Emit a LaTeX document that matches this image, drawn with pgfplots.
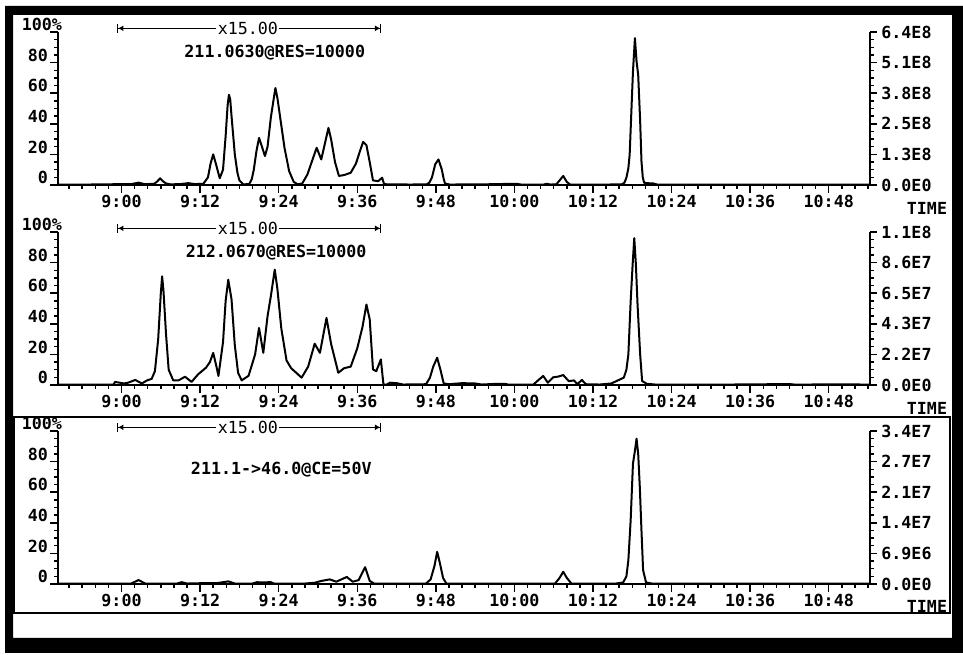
\documentclass[border=0pt]{standalone}
\usepackage{fontspec}
\usepackage{pgfplots}
\usepackage{pgfplotstable}
\pgfplotsset{compat=1.18}
\usetikzlibrary{arrows.meta}
\newfontfamily\monofont{DejaVu Sans Mono}
\newcommand\lbl{\fontsize{12.5pt}{14pt}\selectfont\monofont\bfseries}
\newcommand\hdr{\fontsize{12.5pt}{14pt}\selectfont\monofont}

% time in minutes (9:00 = 540), intensity in % of full scale
\pgfplotstableread{
t v
530.3 0.3
535 0.3
539 0.5
541.5 0.6
542.6 1.5
543.6 0.5
545.0 0.8
545.5 2.5
545.9 4.4
546.3 2.5
546.8 1.0
547.5 0.4
549.0 0.6
550.2 1.2
551.2 0.6
552.5 0.8
553.2 5
553.6 14
554.0 20
554.4 14
555.0 4.4
555.5 10
555.9 32
556.2 52
556.4 59
556.6 56
556.8 45
557.3 20
557.7 8
558.0 3
558.6 0.4
559.5 0.6
559.9 4
560.2 10
560.6 22
561.0 30.8
561.3 27
561.9 18.9
562.3 25
562.8 44
563.3 58
563.5 63.4
563.8 57
564.3 42
564.9 24
565.6 9
566.3 2
566.9 0.4
567.6 1
568.4 7
569.2 17
569.8 24.3
570.5 16.7
571.0 26
571.6 37.3
572.0 30
572.6 15
573.2 5.9
574.0 6.5
575.0 8
575.8 14
576.4 22
576.9 28.2
577.4 26
577.9 15
578.4 3
579.2 2.5
579.8 4.8
580.1 0.5
584 0.3
586.6 0.4
587.0 1.5
587.4 4.8
587.9 13.5
588.4 16.7
588.9 10.2
589.2 4
589.4 1
590.1 0.3
595 0.4
600.3 0.8
601.0 0.3
604.5 0.3
604.9 0.8
605.5 0.3
606.4 0.4
606.9 3
607.45 5.9
608.0 2
608.5 0.3
612 0.2
616.4 0.4
616.8 1.5
617.1 4.8
617.4 11
617.6 20
617.9 52.6
618.1 74
618.4 96
618.65 80.8
618.9 72
619.2 41.7
619.4 15.6
619.6 5
619.8 1.5
620.2 1.2
621.2 1.0
621.8 0.3
630 0.2
640 0.2
654.3 0.2
}\dataA

\pgfplotstableread{
t v
530.3 0.2
538.8 0.2
539.0 2
540.4 1.0
541.0 1.5
542.1 3.3
543.1 1.0
543.9 3.0
544.6 4
545.1 9
545.6 30
546.0 60
546.2 71
546.4 62
546.8 33
547.2 10
547.9 3
548.7 3
549.7 5.4
550.7 2
551.7 7
552.9 11.3
553.5 15
554.0 21
554.5 12
554.8 5.9
555.5 28
555.9 55
556.3 68.8
556.8 56
557.3 26
557.8 8
558.35 3
559.4 6
560.4 20
561.0 37.3
561.65 21
562.3 45
562.8 58
563.4 75.4
563.8 63
564.4 37
565.2 16
565.9 11
567.5 4.8
568.5 12
569.5 27
570.3 21
571.3 43.8
572.0 27
573.1 8
574.0 11
575.0 12
576.0 24
576.8 38
577.4 52.6
577.9 43
578.4 10.2
578.9 9
579.6 16.7
580.0 0.3
580.5 0.3
581 1.5
582 1.2
583 0.3
586.5 0.5
587.1 4.8
587.6 12
588.2 17.8
588.7 10
589.2 1
590 0.5
592 1.2
594 1.0
595 0.3
597.5 0.8
598.5 0.8
599 0.3
602.9 0.3
603.6 3
604.4 5.9
605.1 1.5
605.9 5
606.7 5.5
607.45 6.5
608.3 2.5
609.1 3
609.6 0.5
610.3 3.3
610.9 0.5
613 0.3
614.8 1.0
615.8 3
616.7 4.8
617.1 10
617.4 20
617.75 54.7
618.05 78.6
618.3 96
618.55 78.6
618.8 52.6
619.2 20
619.5 2.6
620.2 0.8
621.5 0.3
630 0.2
642 0.6
643 0.2
647 0.4
654.3 0.3
}\dataB

\pgfplotstableread{
t v
530.3 0.3
541.5 0.3
542.6 2.6
543.6 0.3
548.5 0.3
549.2 1.2
550 0.3
553 0.6
554.5 0.5
556.3 1.7
557.3 0.3
560.0 0.3
560.7 1.2
561.2 1.0
562.8 1.2
563.3 0.3
568 0.3
569.5 0.8
570.5 2
571.8 3
572.8 1.5
574.4 4.6
575.3 1.5
576.2 2.5
577.2 11
577.9 2
578.6 0.2
586.5 0.3
587.2 3
587.8 12
588.2 21
588.6 14
589.1 4
589.6 0.3
606.2 0.3
606.9 4
607.45 8
608.0 4
608.7 0.3
615.5 0.3
616.6 1
617.1 5
617.4 15.6
617.75 41.7
618.1 78.6
618.4 87
618.65 95
618.9 85
619.15 63
619.4 35
619.65 9
620.1 1
621 0.3
654.3 0.3
}\dataC

\tikzset{
  trace/.style={black, line width=1.5pt, line join=round},
  bracket/.style={black, line width=0.9pt,
    {Bar[width=7pt]Latex[length=4pt,width=4.5pt]}-{Latex[length=4pt,width=4.5pt]Bar[width=7pt]}},
}
\pgfplotsset{
  panel/.style={
    anchor=south west, scale only axis, width=609pt, height=114.75pt,
    xmin=530.3, xmax=654.3, ymin=0, ymax=100,
    tick align=outside,
    major tick length=6pt, minor tick length=3pt,
    every tick/.style={black, line width=1.1pt},
    axis line style={line width=1.5pt, black},
    tick label style={font=\lbl},
    clip=false,
  },
  leftpanel/.style={
    panel,
    axis x line*=bottom, axis y line*=left,
    xtick={540,552,...,648},
    xticklabels={9:00,9:12,9:24,9:36,9:48,10:00,10:12,10:24,10:36,10:48},
    minor xtick={532,534,...,654},
    xticklabel style={yshift=2pt},
    ytick={0,20,...,100},
    yticklabels={0,20,40,60,80,{100\rlap{\%}\hspace*{-3pt}}},
    minor y tick num=3,
    yticklabel style={anchor=base east, yshift=1pt, xshift=2pt},
  },
  rightpanel/.style={
    panel,
    axis x line=none, axis y line*=right,
    ytick={0,20,...,100},
    minor y tick num=3,
    major tick length=5pt,
    yticklabel style={anchor=west},
  },
}

\begin{document}
\begin{tikzpicture}
\useasboundingbox (0,0) rectangle (722.25pt,491.25pt);
\fill[white] (0,0) rectangle (722.25pt,491.25pt);

% ---------- panel 1 ----------
\begin{axis}[leftpanel, at={(43.5pt,352.5pt)}]
\addplot[trace] table[x=t,y=v] {\dataA};
\draw[bracket] (axis cs:539.3,102.4) -- (axis cs:579.7,102.4);
\node[fill=white, inner sep=1pt, font=\hdr] at (axis cs:559.3,102.4) {x15.00};
\node[font=\lbl] at (axis cs:563.4,86.3) {211.0630@RES=10000};
\node[font=\lbl] at (axis cs:663,-15.5) {TIME};
\end{axis}
\begin{axis}[rightpanel, at={(43.5pt,352.5pt)},
  yticklabels={0.0E0,1.3E8,2.5E8,3.8E8,5.1E8,6.4E8}]
\addplot[draw=none] coordinates {(540,0)};
\end{axis}

% ---------- panel 2 ----------
\begin{axis}[leftpanel, at={(43.5pt,202.5pt)}]
\addplot[trace] table[x=t,y=v] {\dataB};
\draw[bracket] (axis cs:539.3,102.4) -- (axis cs:579.7,102.4);
\node[fill=white, inner sep=1pt, font=\hdr] at (axis cs:559.3,102.4) {x15.00};
\node[font=\lbl] at (axis cs:563.6,86.6) {212.0670@RES=10000};
\node[font=\lbl] at (axis cs:663,-15.5) {TIME};
\end{axis}
\begin{axis}[rightpanel, at={(43.5pt,202.5pt)},
  yticklabels={0.0E0,2.2E7,4.3E7,6.5E7,8.6E7,1.1E8}]
\addplot[draw=none] coordinates {(540,0)};
\end{axis}

% ---------- panel 3 ----------
\begin{axis}[leftpanel, at={(43.5pt,53.25pt)}]
\addplot[trace] table[x=t,y=v] {\dataC};
\draw[bracket] (axis cs:539.3,102.4) -- (axis cs:579.7,102.4);
\node[fill=white, inner sep=1pt, font=\hdr] at (axis cs:559.3,102.4) {x15.00};
\node[font=\lbl] at (axis cs:564.4,74.5) {211.1->46.0@CE=50V};
\node[font=\lbl] at (axis cs:663,-14.6) {TIME};
\end{axis}
\begin{axis}[rightpanel, at={(43.5pt,53.25pt)},
  yticklabels={0.0E0,6.9E6,1.4E7,2.1E7,2.7E7,3.4E7}]
\addplot[draw=none] coordinates {(540,0)};
\end{axis}

% ---------- frames (pixel coordinates) ----------
\begin{scope}[x=0.75pt, y=-0.75pt, yshift=491.25pt]
  \draw[line width=1.1pt] (14,417) rectangle (950,613);
  \fill[black, even odd rule] (5,6) rectangle (963,653) (13,15) rectangle (952,638);
\end{scope}
\end{tikzpicture}
\end{document}
